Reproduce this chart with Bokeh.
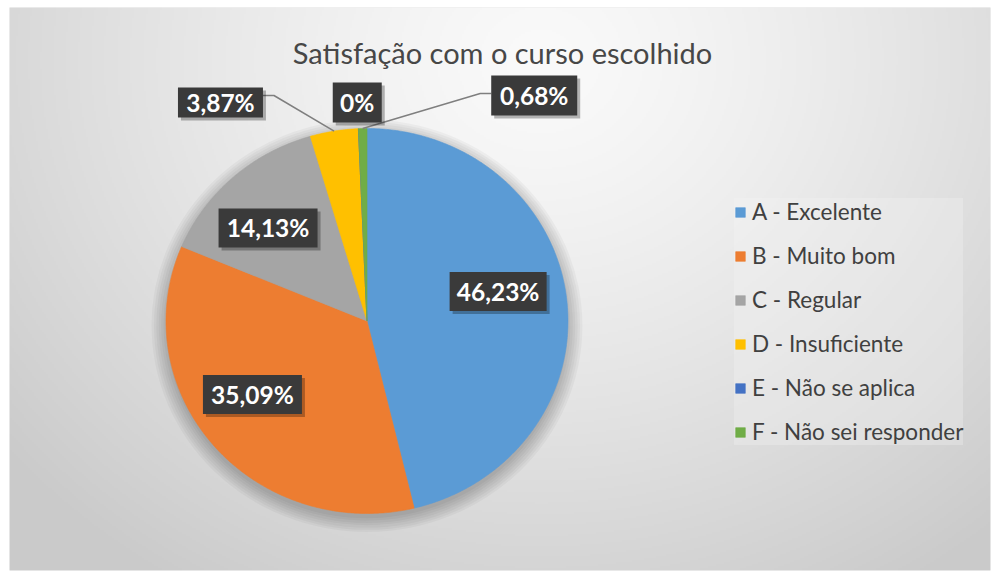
import numpy as np
from bokeh.plotting import figure
from bokeh.models import ColumnDataSource, Range1d, Label
from bokeh.core.properties import value
from bokeh.embed import file_html
from bokeh.resources import INLINE

# ---------------- data ----------------
chart_title = "Satisfação com o curso escolhido"
categories = ["A - Excelente", "B - Muito bom", "C - Regular", "D - Insuficiente",
              "E - Não se aplica", "F - Não sei responder"]
values = [46.23, 35.09, 14.13, 3.87, 0.0, 0.68]
colors = ["#5B9BD5", "#ED7D31", "#A5A5A5", "#FFC000", "#4472C4", "#70AD47"]

# ---------------- style / layout ----------------
W, H = 997, 571
FL, FT, FR, FB = 9, 7, 990, 570   # frame edges in page pixels
CXP, CYP = 366.5, 320.5            # pie centre in page pixels
RX, RY = 201.0, 192.5              # pixels per data unit (slightly elliptical pie)
label_r = [0.67, 0.686, 0.69, 1.349, 1.136, 1.437]
label_dang = [-6.4, 6.6, -3.7, -23.3, 0.0, 36.6]
box_w = [97, 99, 99, 85, 49, 86]
box_h = [39, 39, 39, 30, 40, 40]
leader = [False, False, False, True, False, True]
leader_dy = [0, 0, 0, 7, 0, 2]     # pixels above the label centre

x0, x1 = -(CXP - FL) / RX, (FR - CXP) / RX
y0, y1 = -(FB - CYP) / RY, (CYP - FT) / RY

p = figure(width=W, height=H, x_range=Range1d(x0, x1), y_range=Range1d(y0, y1),
           output_backend="svg", toolbar_location=None,
           min_border_left=FL, min_border_top=FT, min_border_right=W - FR,
           min_border_bottom=H - FB,
           x_axis_location=None, y_axis_location=None, title=None)
p.grid.visible = False
p.outline_line_color = None
p.background_fill_color = "#e0e0e0"
p.border_fill_color = "white"

# background radial gradient (decoration)
nx, ny = 490, 281
px = FL + (np.arange(nx) + 0.5) * (FR - FL) / nx
py = FB - (np.arange(ny) + 0.5) * (FB - FT) / ny
PX, PY = np.meshgrid(px, py)
t = np.sqrt(((PX - 540) / 700) ** 2 + ((PY - 60) / 620) ** 2)
t = np.clip(t, 0, 1)
g = (250 - 48 * t ** 1.3).astype(np.uint8)
img = np.empty((ny, nx), dtype=np.uint32)
view = img.view(dtype=np.uint8).reshape((ny, nx, 4))
view[..., 0] = g
view[..., 1] = g
view[..., 2] = g
view[..., 3] = 255
p.image_rgba(image=[img], x=x0, y=y0, dw=x1 - x0, dh=y1 - y0)

# pie shadow
ks = np.arange(7)
p.ellipse(x=[0.0] * 7, y=[-0.025] * 7, width=list(2 * (1.0 + 0.012 * ks)),
          height=list(2 * (1.0 + 0.012 * ks)), fill_color="black", fill_alpha=0.035,
          line_color=None)

# slices
vals = np.array(values)
ends = np.cumsum(vals) / vals.sum() * 360.0
starts = ends - vals / vals.sum() * 360.0
mids = (starts + ends) / 2
xs, ys = [], []
for a0, a1 in zip(starts, ends):
    n = max(2, int((a1 - a0) * 2) + 2)
    th = np.radians(np.linspace(a0, a1, n))
    xs.append([0.0] + list(np.sin(th)))
    ys.append([0.0] + list(np.cos(th)))
src = ColumnDataSource(dict(xs=xs, ys=ys, color=colors, cat=categories))
p.patches("xs", "ys", source=src, fill_color="color", line_color="color",
          line_width=0.6, legend_field="cat")

# data labels
def fmt(v):
    s = f"{v:.2f}".rstrip("0").rstrip(".")
    return s.replace(".", ",") + "%"

texts = [fmt(v) for v in values]
la = np.radians(mids + np.array(label_dang))
lx = np.array(label_r) * np.sin(la)
ly = np.array(label_r) * np.cos(la)

# leader lines
lxs, lys = [], []
for i in range(len(values)):
    if not leader[i]:
        continue
    m = np.radians(mids[i])
    axp, ayp = np.sin(m), np.cos(m)
    side = 1 if lx[i] < axp else -1
    edge = lx[i] + side * (box_w[i] / 2) / RX
    elbow = lx[i] + side * (box_w[i] / 2 + 11) / RX
    yy = ly[i] + leader_dy[i] / RY
    lxs.append([axp, elbow, edge])
    lys.append([ayp, yy, yy])
p.multi_line(lxs, lys, line_color="#7f7f7f", line_width=1.5)

# label boxes
p.rect(x=list(lx + 3 / RX), y=list(ly - 3 / RY), width=box_w, height=box_h,
       width_units="screen", height_units="screen", fill_color="black",
       fill_alpha=0.28, line_color=None)
p.rect(x=list(lx), y=list(ly), width=box_w, height=box_h,
       width_units="screen", height_units="screen", fill_color="#3a3a3a",
       line_color=None)
p.text(x=list(lx), y=list(ly), text=texts, text_align="center",
       text_baseline="middle", text_font=value("Lato"), text_font_style="bold",
       text_font_size="24.5px", text_color="white")

# title
p.add_layout(Label(x=502 - FL, y=FB - 52, x_units="screen", y_units="screen",
                   text=chart_title, text_align="center", text_baseline="alphabetic",
                   text_font="Lato", text_font_size="29px", text_color="#474747"))

# legend
lg = p.legend[0]
lg.location = (734 - FL, FB - 445)
lg.orientation = "vertical"
lg.label_text_font = "Lato"
lg.label_text_font_size = "22.5px"
lg.label_text_color = "#404040"
lg.glyph_width = 12
lg.glyph_height = 12
lg.label_height = 20
lg.label_standoff = 6
lg.spacing = 17
lg.padding = 18
lg.margin = 0
lg.background_fill_color = "#f4f4f4"
lg.background_fill_alpha = 0.3
lg.border_line_color = None

open("out.html", "w").write(file_html(p, INLINE))
